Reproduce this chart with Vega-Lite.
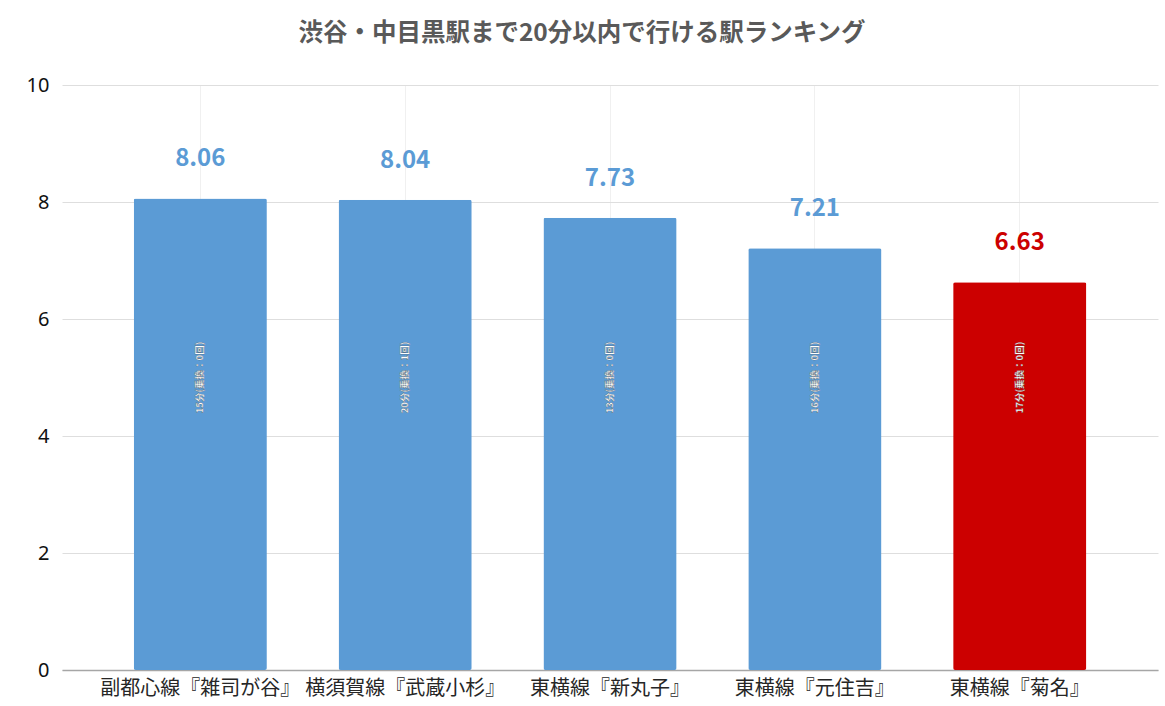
{
  "$schema": "https://vega.github.io/schema/vega-lite/v6.json",
  "autosize": {"type": "none"},
  "width": 1096,
  "height": 585,
  "padding": {"left": 62, "top": 85, "right": 7, "bottom": 36},
  "background": "white",
  "title": {
    "text": "渋谷・中目黒駅まで20分以内で行ける駅ランキング",
    "font": "Noto Sans CJK JP",
    "fontSize": 24.5,
    "fontWeight": "bold",
    "color": "#595959",
    "anchor": "middle",
    "frame": "group",
    "dx": -28,
    "offset": 29
  },
  "config": {
    "view": {"stroke": null},
    "font": "Noto Sans CJK JP"
  },
  "data": {
    "values": [
      {"station": "副都心線『雑司が谷』", "score": 8.06, "info": "15分(乗換：0回)", "highlight": "no"},
      {"station": "横須賀線『武蔵小杉』", "score": 8.04, "info": "20分(乗換：1回)", "highlight": "no"},
      {"station": "東横線『新丸子』", "score": 7.73, "info": "13分(乗換：0回)", "highlight": "no"},
      {"station": "東横線『元住吉』", "score": 7.21, "info": "16分(乗換：0回)", "highlight": "no"},
      {"station": "東横線『菊名』", "score": 6.63, "info": "17分(乗換：0回)", "highlight": "yes"}
    ]
  },
  "encoding": {
    "x": {
      "field": "station",
      "type": "nominal",
      "sort": null,
      "scale": {"paddingInner": 0.35, "paddingOuter": 0.35},
      "axis": {
        "title": null,
        "labelAngle": 0,
        "labelFontSize": 20,
        "labelColor": "#262626",
        "labelPadding": 8,
        "labelLimit": 0,
        "labelOverlap": false,
        "labelFont": "Noto Sans CJK JP",
        "ticks": false,
        "domainColor": "#a6a6a6",
        "domainWidth": 1.5,
        "grid": true,
        "gridColor": "#f0f0f0",
        "gridWidth": 1
      }
    }
  },
  "layer": [
    {
      "mark": {"type": "bar", "cornerRadius": 2},
      "encoding": {
        "y": {
          "field": "score",
          "type": "quantitative",
          "scale": {"domain": [0, 10]},
          "axis": {
            "title": null,
            "values": [0, 2, 4, 6, 8, 10],
            "format": "d",
            "labelFontSize": 20,
            "labelFont": "Noto Sans",
            "labelColor": "#111111",
            "labelPadding": 13,
            "ticks": false,
            "domain": false,
            "gridColor": "#dedede",
            "gridWidth": 1
          }
        },
        "color": {
          "field": "highlight",
          "type": "nominal",
          "scale": {"domain": ["no", "yes"], "range": ["#5B9BD5", "#CC0000"]},
          "legend": null
        }
      }
    },
    {
      "mark": {"type": "text", "dy": -39, "fontSize": 24, "fontWeight": "bold"},
      "encoding": {
        "y": {"field": "score", "type": "quantitative"},
        "text": {"field": "score", "type": "quantitative", "format": ".2f"},
        "color": {
          "field": "highlight",
          "type": "nominal",
          "scale": {"domain": ["no", "yes"], "range": ["#5B9BD5", "#CC0000"]},
          "legend": null
        }
      }
    },
    {
      "mark": {"type": "text", "angle": 270, "fontSize": 9.5, "fontWeight": "bold", "color": "white", "stroke": "#555555", "strokeWidth": 0.3, "align": "center", "baseline": "middle"},
      "encoding": {
        "y": {"datum": 5},
        "text": {"field": "info"}
      }
    }
  ]
}
